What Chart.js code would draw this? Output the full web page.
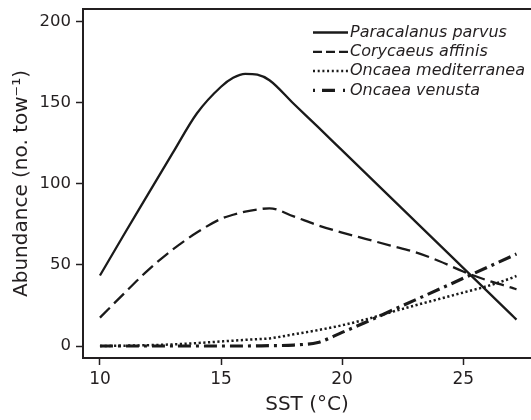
<!DOCTYPE html>
<html>
<head>
<meta charset="utf-8">
<script src="https://cdn.jsdelivr.net/npm/chart.js@4.4.0/dist/chart.umd.min.js"></script>
<style>
  html, body { margin: 0; padding: 0; background: #fff; }
  #wrap { width: 531px; height: 420px; }
</style>
</head>
<body>
<div id="wrap"><canvas id="chart"></canvas></div>
<script>
const sst = [10, 11, 12, 13, 14, 15, 15.5, 16, 16.5, 17, 18, 19, 20, 21, 22, 23, 24, 25, 26, 27, 27.2];

// Abundance (no. tow-1) per species
const paracalanus = [43.5, 69, 94, 119, 143.5, 160, 165.5, 168, 167.5, 164, 149.5, 135.2, 120.7, 106.2, 91.7, 77.2, 62.7, 48.2, 33.7, 19.2, 16.3];
const corycaeus   = [17.5, 32.5, 47, 59.5, 70, 78.5, 81, 83, 84.3, 85, 80, 74.5, 70, 66, 62, 58, 52.5, 46, 40.5, 36, 35];
const oncaeaMed   = [0, 0.2, 0.5, 1, 1.8, 2.8, 3.3, 3.8, 4.2, 4.7, 7.2, 9.8, 12.8, 16.5, 20.8, 25, 29, 33, 37, 42, 43.2];
const oncaeaVen   = [0, 0, 0, 0, 0, 0, 0, 0, 0.1, 0.2, 0.6, 2.2, 8.4, 14.8, 21.6, 28.3, 35, 41.8, 48.6, 55.4, 56.8];

const species = ['Paracalanus parvus', 'Corycaeus affinis', 'Oncaea mediterranea', 'Oncaea venusta'];

// Tick labels
const xTicks = [10, 15, 20, 25];
const yTicks = [0, 50, 100, 150, 200];

const ink = '#231f20';
Chart.defaults.font.family = '"DejaVu Sans", sans-serif';
Chart.defaults.color = ink;

function points(values) {
    return sst.map((x, i) => ({ x: x, y: values[i] }));
}

// line samples for the legend (shorter dashes than on the plot)
const legendDash = [[], [9, 4], [2, 2.7], [2, 7, 13, 8, 2, 60]];

const cornerLegend = {
    id: 'cornerLegend',
    afterDraw(chart) {
        const ctx = chart.ctx;
        ctx.save();
        chart.data.datasets.forEach((ds, i) => {
            const y = 32.5 + i * 19.3;
            ctx.beginPath();
            ctx.setLineDash(legendDash[i]);
            ctx.lineWidth = ds.borderWidth;
            ctx.strokeStyle = ds.borderColor;
            ctx.moveTo(313, y);
            ctx.lineTo(348, y);
            ctx.stroke();
            ctx.setLineDash([]);
            ctx.fillStyle = ink;
            ctx.font = 'italic 16px "DejaVu Sans"';
            ctx.textBaseline = 'middle';
            ctx.textAlign = 'left';
            ctx.fillText(ds.label, 350, y);
        });
        ctx.restore();
    }
};

const lineDefaults = {
    borderColor: '#1a1a1a',
    pointRadius: 0,
    fill: false,
    cubicInterpolationMode: 'monotone'
};

new Chart(document.getElementById('chart'), {
    type: 'line',
    data: {
        datasets: [
            { ...lineDefaults, label: species[0], data: points(paracalanus), borderWidth: 2.3 },
            { ...lineDefaults, label: species[1], data: points(corycaeus), borderWidth: 2.3, borderDash: [14, 6] },
            { ...lineDefaults, label: species[2], data: points(oncaeaMed), borderWidth: 2.5, borderDash: [2.2, 2.5] },
            { ...lineDefaults, label: species[3], data: points(oncaeaVen), borderWidth: 3.2, borderDash: [13, 5, 3, 5] }
        ]
    },
    options: {
        responsive: true,
        maintainAspectRatio: false,
        animation: false,
        layout: { padding: 0 },
        plugins: {
            legend: { display: false },
            tooltip: { enabled: false }
        },
        scales: {
            x: {
                type: 'linear',
                position: 'bottom',
                min: 9.3,
                max: 27.8,
                afterBuildTicks: (s) => { s.ticks = xTicks.map(v => ({ value: v })); },
                afterFit: (s) => { s.height = 62; s.paddingLeft = 0; s.paddingRight = 0; },
                ticks: { font: { size: 17 }, padding: 4, maxRotation: 0 },
                grid: { drawOnChartArea: false, tickLength: 7, tickWidth: 1.5, tickColor: ink },
                border: { display: true, width: 2, color: ink },
                title: { display: true, text: 'SST (°C)', font: { size: 20 }, padding: { top: 0, bottom: 3 } }
            },
            xTop: {
                type: 'linear',
                position: 'top',
                min: 9.3,
                max: 27.8,
                afterFit: (s) => { s.height = 9; },
                ticks: { display: false },
                grid: { display: false, drawTicks: false },
                border: { display: true, width: 2, color: ink }
            },
            y: {
                type: 'linear',
                min: -7.4,
                max: 208,
                afterBuildTicks: (s) => { s.ticks = yTicks.map(v => ({ value: v })); },
                afterFit: (s) => { s.width = 83; s.paddingTop = 0; s.paddingBottom = 0; },
                ticks: { font: { size: 16.5 }, padding: 5 },
                grid: { drawOnChartArea: false, tickLength: 7, tickWidth: 1.5, tickColor: ink },
                border: { display: true, width: 2, color: ink },
                title: { display: true, text: 'Abundance (no. tow⁻¹)', font: { size: 20 }, padding: { top: 10, bottom: 0 } }
            }
        }
    },
    plugins: [cornerLegend]
});
</script>
</body>
</html>
